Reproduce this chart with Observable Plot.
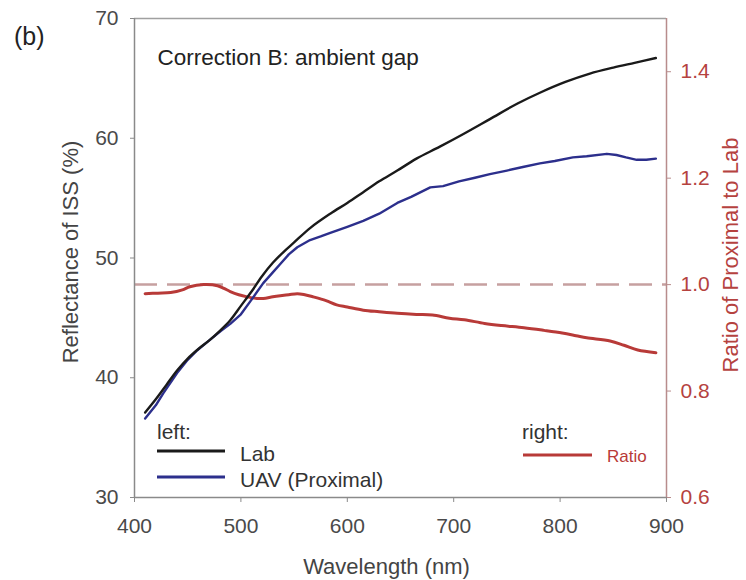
<!DOCTYPE html>
<html><head><meta charset="utf-8">
<script src="https://cdn.jsdelivr.net/npm/d3@7"></script>
<script src="https://cdn.jsdelivr.net/npm/@observablehq/plot@0.6"></script>
<style>
body{margin:0;background:#fff;font-family:"Liberation Sans",Arial,sans-serif;}
#wrap{position:relative;width:746px;height:580px;overflow:hidden;}
.ov{position:absolute;white-space:nowrap;line-height:1;transform:translateY(-50%);}
.sw{position:absolute;height:3px;transform:translateY(-50%);}
</style></head><body><div id="wrap"></div>
<script>
// ---- data ----
const labNm  = [410,420,430,440,450,460,470,480,490,500,510,520,530,540,550,565,584,600,615,630,647,665,687,710,734,760,781,805,828,850,870,890];
const labVal = [37.1,38.2,39.4,40.6,41.6,42.4,43.1,43.9,44.8,46.0,47.2,48.5,49.6,50.5,51.3,52.5,53.7,54.6,55.5,56.4,57.3,58.3,59.3,60.4,61.6,62.9,63.8,64.7,65.4,65.9,66.3,66.7];

const uavNm  = [410,420,427,440,450,459,470,481,490,500,509,521,530,537,545,553,565,575,584,600,615,630,647,660,678,690,705,720,734,750,765,781,795,812,825,844,853,862,872,881,890];
const uavVal = [36.6,37.7,38.7,40.4,41.5,42.3,43.1,43.9,44.5,45.3,46.4,47.9,48.8,49.5,50.3,50.9,51.5,51.8,52.1,52.6,53.1,53.7,54.6,55.1,55.9,56.0,56.4,56.7,57.0,57.3,57.6,57.9,58.1,58.4,58.5,58.7,58.6,58.4,58.2,58.2,58.3];

const ratioNm  = [410,422,434,445,452,465,478,484,490,498,506,515,521,530,537,545,553,560,568,580,590,600,615,630,647,665,680,696,710,729,745,766,785,802,815,825,847,860,873,890];
const ratioVal = [0.983,0.984,0.985,0.990,0.996,1.000,0.998,0.993,0.987,0.981,0.977,0.974,0.974,0.977,0.979,0.981,0.983,0.981,0.977,0.970,0.962,0.958,0.952,0.949,0.946,0.944,0.943,0.937,0.934,0.927,0.923,0.919,0.914,0.909,0.904,0.900,0.894,0.886,0.877,0.872];

const xTicks = [400,500,600,700,800,900];
const leftTicks = [30,40,50,60,70];
const rightTicks = [0.6,0.8,1.0,1.2,1.4];
const refRatio = [1.0];
const leftDomain = [30,70];
const rightDomain = [0.6,1.5];

const xLabel = "Wavelength (nm)";
const yLabel = "Reflectance of ISS (%)";
const y2Label = "Ratio of Proximal to Lab";
const note = "Correction B: ambient gap";
const panel = "(b)";
const legendLeft = [{name:"Lab", color:"#1a1a1a"},{name:"UAV (Proximal)", color:"#2c2f8c"}];
const legendRight = [{name:"Ratio", color:"#b83a38"}];

// ---- build ----
const toLeft = r => leftDomain[0] + (r - rightDomain[0])/(rightDomain[1]-rightDomain[0])*(leftDomain[1]-leftDomain[0]);
const fromLeft = v => rightDomain[0] + (v - leftDomain[0])/(leftDomain[1]-leftDomain[0])*(rightDomain[1]-rightDomain[0]);

const lab = labNm.map((nm,i)=>({nm, v:labVal[i]}));
const uav = uavNm.map((nm,i)=>({nm, v:uavVal[i]}));
const ratio = ratioNm.map((nm,i)=>({nm, v:toLeft(ratioVal[i])}));

const FONT = '"Liberation Sans", Arial, sans-serif';
const chart = Plot.plot({
  width:746, height:580,
  marginLeft:134, marginRight:80, marginTop:18, marginBottom:83,
  style:{fontFamily:FONT, fontSize:"21px", background:"transparent", overflow:"visible"},
  x:{domain:[400,900]},
  y:{domain:leftDomain},
  marks:[
    Plot.ruleY(refRatio.map(toLeft), {stroke:"#c6a0a0", strokeWidth:2.5, strokeDasharray:"23,10"}),
    Plot.ruleY([leftDomain[1]], {stroke:"#a0a0a0", strokeWidth:1.5}),
    Plot.ruleY([leftDomain[0]], {stroke:"#8a8a8a", strokeWidth:1.5}),
    Plot.ruleX([400], {stroke:"#8a8a8a", strokeWidth:1.5}),
    Plot.ruleX([900], {stroke:"#b88c8c", strokeWidth:1.5}),
    Plot.axisX({ticks:xTicks, tickSize:5, tickPadding:16, label:null, color:"#4a4a4a", stroke:"#8a8a8a", fontSize:21}),
    Plot.axisY({ticks:leftTicks, tickSize:4, tickPadding:12, label:null, color:"#4a4a4a", stroke:"#8a8a8a", fontSize:21}),
    Plot.axisY({anchor:"right", ticks:rightTicks.map(toLeft), tickFormat:d=>fromLeft(d).toFixed(1), tickSize:4, tickPadding:10, label:null, color:"#b5423f", stroke:"#b88c8c", fontSize:21}),
    Plot.line(ratio, {x:"nm", y:"v", stroke:legendRight[0].color, strokeWidth:3, curve:"catmull-rom"}),
    Plot.line(uav, {x:"nm", y:"v", stroke:legendLeft[1].color, strokeWidth:2.4}),
    Plot.line(lab, {x:"nm", y:"v", stroke:legendLeft[0].color, strokeWidth:2.4, curve:"catmull-rom"}),
    Plot.text([note], {frameAnchor:"top-left", dx:23, dy:39, textAnchor:"start", lineAnchor:"middle", fontSize:22.5, fill:"#222", text:d=>d}),
    Plot.text([xLabel], {frameAnchor:"bottom", dx:-14, dy:69, textAnchor:"middle", lineAnchor:"middle", fontSize:22, fill:"#444", text:d=>d}),
    Plot.text([yLabel], {frameAnchor:"left", dx:-64, dy:-6, rotate:-90, textAnchor:"middle", lineAnchor:"middle", fontSize:22, fill:"#444", text:d=>d}),
    Plot.text([y2Label], {frameAnchor:"right", dx:64, dy:-3, rotate:-90, textAnchor:"middle", lineAnchor:"middle", fontSize:22, fill:"#b5423f", text:d=>d})
  ]
});
const wrap = document.getElementById("wrap");
wrap.appendChild(chart);

function addText(txt, left, top, size, color){
  const d=document.createElement("div"); d.className="ov"; d.textContent=txt;
  d.style.left=left+"px"; d.style.top=top+"px"; d.style.fontSize=size+"px"; d.style.color=color;
  wrap.appendChild(d);
}
function addSwatch(color, left, top, w){
  const d=document.createElement("div"); d.className="sw";
  d.style.left=left+"px"; d.style.top=top+"px"; d.style.width=w+"px"; d.style.background=color;
  wrap.appendChild(d);
}
addText(panel, 14, 36, 25, "#222");
addText("left:", 157, 431, 21, "#333");
legendLeft.forEach((s,i)=>{
  addSwatch(s.color, 157, 451+i*26, 68);
  addText(s.name, 240, 453+i*26, 21, "#333");
});
addText("right:", 522, 431, 21, "#333");
legendRight.forEach((s,i)=>{
  addSwatch(s.color, 523, 455+i*26, 69);
  addText(s.name, 607, 456+i*26, 17, s.color);
});
</script></body></html>
